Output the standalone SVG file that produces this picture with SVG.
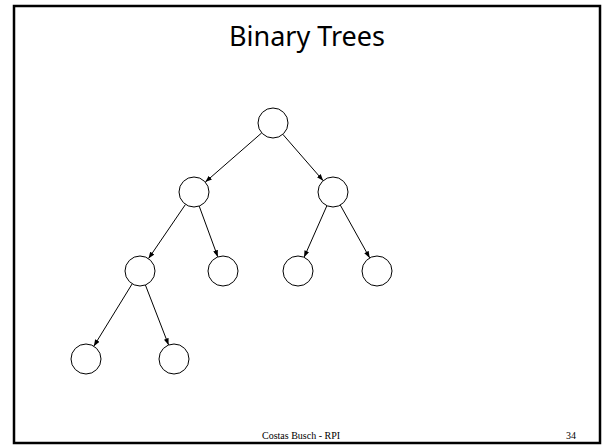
<svg xmlns="http://www.w3.org/2000/svg" width="602" height="447" viewBox="0 0 602 447">
<defs>
<style>
.node{fill:#fff;stroke:#000;stroke-width:1}
.edge{stroke:#000;stroke-width:1;fill:none}
.title{font-family:"Comic Sans MS","Noto Sans","DejaVu Sans",sans-serif;font-size:27px;fill:#000}
.foot{font-family:"Liberation Serif","Times New Roman",serif;font-size:10px;fill:#000}
</style>
<marker id="arr" viewBox="0 0 8 6" refX="8" refY="3" markerWidth="7" markerHeight="5" markerUnits="userSpaceOnUse" orient="auto">
<path d="M0,0 L8,3 L0,6 Z" fill="#000"/>
</marker>
</defs>
<rect x="0" y="0" width="602" height="447" fill="#fff"/>
<rect x="14" y="6" width="586" height="437" fill="#fff" stroke="#000" stroke-width="2.5"/>
<text class="title" x="307" y="46" text-anchor="middle">Binary Trees</text>
<g id="connectors">
<line class="edge" x1="261.7" y1="132.9" x2="205.3" y2="182.1" marker-end="url(#arr)"/>
<line class="edge" x1="282.8" y1="134.3" x2="323.2" y2="180.7" marker-end="url(#arr)"/>
<line class="edge" x1="185.5" y1="204.4" x2="148.5" y2="258.6" marker-end="url(#arr)"/>
<line class="edge" x1="199.2" y1="206.1" x2="217.8" y2="256.9" marker-end="url(#arr)"/>
<line class="edge" x1="326.9" y1="205.7" x2="304.1" y2="257.3" marker-end="url(#arr)"/>
<line class="edge" x1="340.3" y1="205.1" x2="369.7" y2="257.9" marker-end="url(#arr)"/>
<line class="edge" x1="132.2" y1="283.8" x2="93.8" y2="346.2" marker-end="url(#arr)"/>
<line class="edge" x1="145.4" y1="285" x2="168.6" y2="345" marker-end="url(#arr)"/>
</g>
<g id="root"><circle class="node" cx="273" cy="123" r="15"/></g>
<g id="n1"><circle class="node" cx="194" cy="192" r="15"/></g>
<g id="n2"><circle class="node" cx="333" cy="192" r="15"/></g>
<g id="n3"><circle class="node" cx="140" cy="271" r="15"/></g>
<g id="n4"><circle class="node" cx="223" cy="271" r="15"/></g>
<g id="n5"><circle class="node" cx="298" cy="271" r="15"/></g>
<g id="n6"><circle class="node" cx="377" cy="271" r="15"/></g>
<g id="n7"><circle class="node" cx="86" cy="359" r="15"/></g>
<g id="n8"><circle class="node" cx="174" cy="359" r="15"/></g>
<text class="foot" x="301" y="439" text-anchor="middle">Costas Busch - RPI</text>
<text class="foot" x="576" y="439" text-anchor="end">34</text>
</svg>
